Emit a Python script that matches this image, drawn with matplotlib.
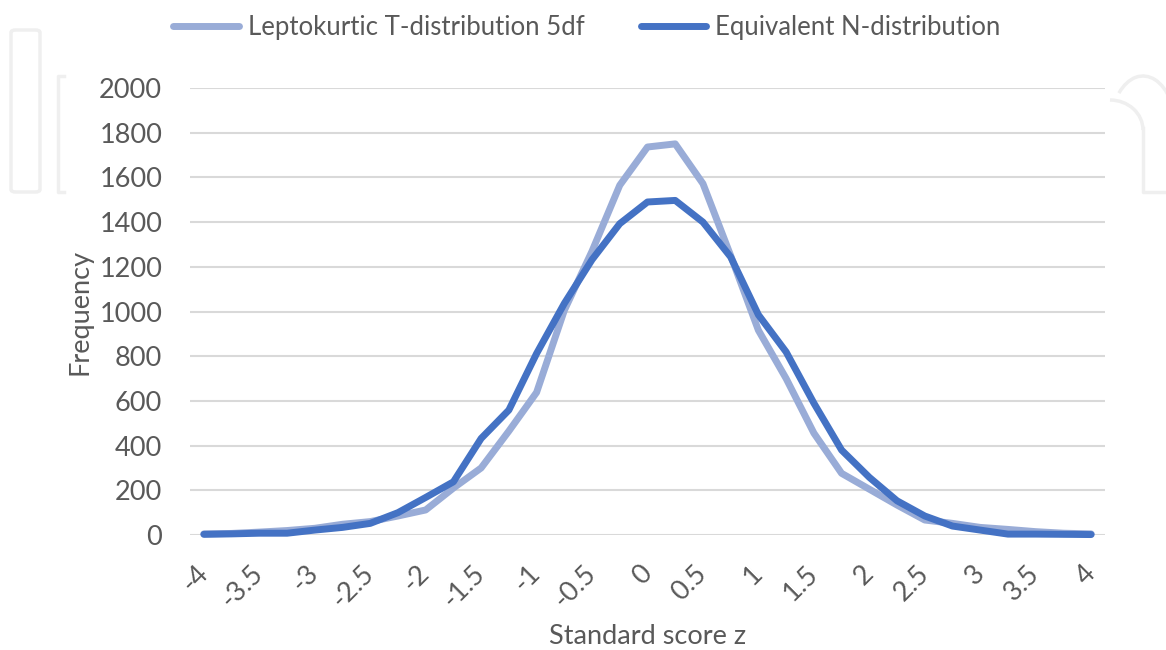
import numpy as np
import matplotlib
matplotlib.use("Agg")
import matplotlib.pyplot as plt
from matplotlib.patches import FancyBboxPatch, Arc
from matplotlib.lines import Line2D

# standard scores, one bin every 0.25
z = np.arange(-4, 4.001, 0.25)

# frequencies per bin
t_dist = [5, 7, 13, 20, 30, 48, 60, 85, 112, 210, 300, 465, 638, 1005, 1270,
          1565, 1736, 1750, 1572, 1250, 916, 700, 456, 276, 205, 134, 67, 52,
          34, 25, 15, 8, 5]
n_dist = [3, 5, 8, 8, 22, 34, 52, 100, 168, 238, 432, 559, 812, 1036, 1232,
          1393, 1490, 1497, 1400, 1244, 985, 819, 590, 380, 258, 153, 85, 40,
          22, 4, 4, 3, 2]

xtick_values = np.arange(-4, 4.001, 0.5)
xtick_labels = ["%g" % v for v in xtick_values]
ytick_values = np.arange(0, 2001, 200)

text_color = "#595959"
grid_color = "#d9d9d9"
mark_color = "#efefef"

plt.rcParams["font.family"] = ["Lato", "DejaVu Sans"]
plt.rcParams["font.size"] = 19.5

W, H = 1166, 650
fig = plt.figure(figsize=(W / 100, H / 100), dpi=100)

# faint logo outline behind the chart (pixel coordinates, origin top left)
def px(x, y):
    return x / W, 1 - y / H

logo_style = {"transform": fig.transFigure, "color": mark_color,
              "linewidth": 2.5, "zorder": 0}
fig.patches.append(FancyBboxPatch(px(11, 192), 29 / W, 162 / H,
                                  boxstyle="round,pad=0,rounding_size=0.004",
                                  transform=fig.transFigure, fill=False,
                                  edgecolor=mark_color, linewidth=2.5,
                                  zorder=0))
for xs, ys in [([64, 58, 58, 64], [76, 76, 192, 192]),
               ([1143, 1143, 1166], [128, 192, 192])]:
    pts = [px(x, y) for x, y in zip(xs, ys)]
    fig.lines.append(Line2D([p[0] for p in pts], [p[1] for p in pts],
                            **logo_style))
fig.patches.append(Arc(px(1143, 130), 66 / W, 108 / H, theta1=0, theta2=110,
                       transform=fig.transFigure, color=mark_color,
                       linewidth=2.5, zorder=0))
fig.patches.append(Arc(px(1110, 130), 66 / W, 60 / H, theta1=0, theta2=90,
                       transform=fig.transFigure, color=mark_color,
                       linewidth=2.5, zorder=0))

ax = fig.add_axes([190 / W, 1 - 535 / H, 915 / W, 447 / H])
ax.patch.set_alpha(0)

line_style = {"linewidth": 5, "solid_capstyle": "round",
              "solid_joinstyle": "round", "clip_on": False}
ax.plot(z, t_dist, color="#99acd7", label="Leptokurtic T-distribution 5df",
        zorder=3, **line_style)
ax.plot(z, n_dist, color="#4472c4", label="Equivalent N-distribution",
        zorder=4, **line_style)

ax.set_xlim(-4.125, 4.125)
ax.set_ylim(0, 2000)

ax.set_yticks(ytick_values)
ax.set_xticks(xtick_values)
ax.set_xticklabels(xtick_labels, rotation=45, ha="right", va="center",
                   rotation_mode="anchor")

ax.yaxis.grid(True, color=grid_color, linewidth=1.5)
ax.set_axisbelow(True)
for side in ["top", "right", "left", "bottom"]:
    ax.spines[side].set_visible(False)

ax.tick_params(axis="both", length=0, colors=text_color)
ax.tick_params(axis="x", pad=25)
ax.tick_params(axis="y", pad=20)

ax.set_xlabel("Standard score z", color=text_color, labelpad=8)
ax.set_ylabel("Frequency", color=text_color, labelpad=5)

leg = fig.legend(loc="center", bbox_to_anchor=(587 / W, 1 - 27 / H),
                 ncol=2, frameon=False, handlelength=2.55, handletextpad=0.35,
                 columnspacing=2.2, fontsize=18.5)
for text in leg.get_texts():
    text.set_color(text_color)

fig.savefig("out.png", dpi=100)
